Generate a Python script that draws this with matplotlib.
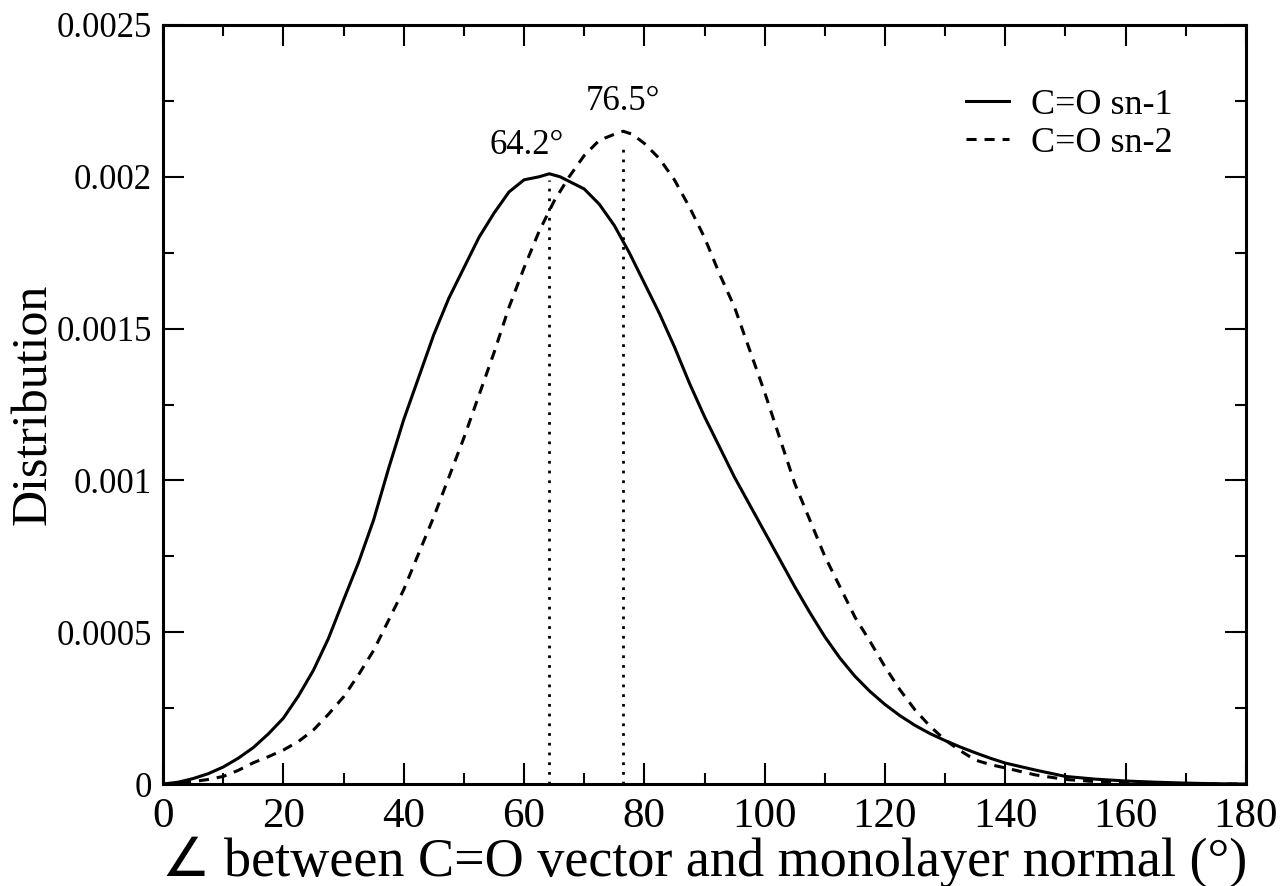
import matplotlib
matplotlib.use("Agg")
import matplotlib.pyplot as plt
from matplotlib.ticker import MultipleLocator

plt.rcParams['font.family'] = ['Liberation Serif', 'DejaVu Serif']

# Angle distribution of the carbonyl vectors (degrees vs. probability density)
angle_sn1 = [0, 2.5, 5, 7.5, 10, 12.5, 15, 17.5, 20, 22.5, 25, 27.5, 30, 32.5, 35, 37.5,
             40, 42.5, 45, 47.5, 50, 52.5, 55, 57.5, 60, 62.5, 64.2, 66, 68, 70, 72.5, 75,
             77.5, 80, 82.5, 85, 87.5, 90, 92.5, 95, 97.5, 100, 102.5, 105, 107.5, 110,
             112.5, 115, 117.5, 120, 122.5, 125, 127.5, 130, 132.5, 135, 137.5, 140, 145,
             150, 155, 160, 165, 170, 175, 180]
dist_sn1 = [0.0, 0.000006, 0.000018, 0.000034, 0.000056, 0.000085, 0.00012, 0.000165,
            0.000217, 0.00029, 0.000375, 0.00048, 0.000606, 0.00073, 0.00087, 0.00104,
            0.0012, 0.00134, 0.00148, 0.0016, 0.0017, 0.0018, 0.00188, 0.00195, 0.00199,
            0.002, 0.00201, 0.002, 0.00198, 0.00196, 0.00191, 0.00184, 0.00175, 0.00165,
            0.00155, 0.00144, 0.00132, 0.00121, 0.00111, 0.00101, 0.00092, 0.00083,
            0.00074, 0.00065, 0.000565, 0.000485, 0.000415, 0.000355, 0.000305, 0.000262,
            0.000225, 0.000193, 0.000166, 0.000143, 0.000122, 0.000103, 0.000085, 0.000069,
            0.000046, 0.000025, 0.000016, 0.00001, 0.000006, 0.000003, 0.000001, 0.0]

angle_sn2 = [0, 2.5, 5, 7.5, 10, 12.5, 15, 17.5, 20, 22.5, 25, 27.5, 30, 32.5, 35, 37.5,
             40, 42.5, 45, 47.5, 50, 52.5, 55, 57.5, 60, 62.5, 65, 67.5, 70, 72.5, 75, 76.5,
             78, 80, 82.5, 85, 87.5, 90, 92.5, 95, 97.5, 100, 102.5, 105, 107.5, 110, 112.5,
             115, 117.5, 120, 122.5, 125, 127.5, 130, 132.5, 135, 137.5, 140, 145, 150, 155,
             160, 165, 170, 180]
dist_sn2 = [0.0, 0.000002, 0.000008, 0.000015, 0.000025, 0.000045, 0.00007, 0.00009,
            0.000112, 0.00014, 0.000178, 0.00023, 0.000287, 0.00036, 0.00044, 0.00054,
            0.00064, 0.00076, 0.00088, 0.00101, 0.00114, 0.00128, 0.00142, 0.00157, 0.0017,
            0.00182, 0.00192, 0.002, 0.00207, 0.00212, 0.00214, 0.00215, 0.00214, 0.00211,
            0.00206, 0.00199, 0.0019, 0.0018, 0.00168, 0.00157, 0.00143, 0.00129, 0.00114,
            0.00099, 0.00087, 0.00075, 0.00065, 0.00055, 0.00047, 0.000386, 0.00031,
            0.000244, 0.00019, 0.000145, 0.00011, 0.000079, 0.000064, 0.000053, 0.00003,
            0.000015, 0.000008, 0.000003, 0.000001, 0.0, 0.0]

peak_angles = [64.2, 76.5]
peak_heights = [0.00199, 0.0021]
peak_labels = ["64.2°", "76.5°"]

x_ticks = [0, 20, 40, 60, 80, 100, 120, 140, 160, 180]
y_ticks = [0, 0.0005, 0.001, 0.0015, 0.002, 0.0025]
y_ticklabels = ["0", "0.0005", "0.001", "0.0015", "0.002", "0.0025"]

fig = plt.figure(figsize=(12.87, 8.86), dpi=100)
ax = fig.add_axes([0.1267, 0.1151, 0.8414, 0.8567])

ax.plot(angle_sn1, dist_sn1, color='black', lw=2.2, label='C=O sn-1')
ax.plot(angle_sn2, dist_sn2, color='black', lw=2.2, ls=(0, (3.3, 2.6)), label='C=O sn-2')

for a, h in zip(peak_angles, peak_heights):
    ax.plot([a, a], [0, h], color='black', lw=2.0, ls=(0, (1, 2.5)))

ax.text(60.5, 0.00205, peak_labels[0], ha='center', va='bottom', fontsize=25)
ax.text(76.5, 0.002195, peak_labels[1], ha='center', va='bottom', fontsize=25)

ax.set_xlim(0, 180)
ax.set_ylim(0, 0.0025)
ax.set_xticks(x_ticks)
ax.set_xticklabels([str(v) for v in x_ticks])
ax.set_yticks(y_ticks)
ax.set_yticklabels(y_ticklabels)
ax.xaxis.set_minor_locator(MultipleLocator(10))
ax.yaxis.set_minor_locator(MultipleLocator(0.00025))

ax.tick_params(which='both', direction='in', top=True, right=True, width=1.5)
ax.tick_params(which='major', length=15)
ax.tick_params(which='minor', length=8)
ax.tick_params(axis='x', which='major', labelsize=31, pad=10)
ax.tick_params(axis='y', which='major', labelsize=25, pad=8)
for s in ax.spines.values():
    s.set_linewidth(2.2)

ax.set_xlabel("∠ between C=O vector and monolayer normal (°)", fontsize=39, labelpad=0,
              family=['Liberation Serif', 'DejaVu Sans'])
ax.set_ylabel("Distribution", fontsize=36)
ax.yaxis.set_label_coords(-0.098, 0.5)

leg = ax.legend(loc='upper right', bbox_to_anchor=(0.932, 0.916), frameon=False,
                fontsize=26, handlelength=1.2, handletextpad=0.6, labelspacing=0.12,
                borderpad=0, borderaxespad=0)

fig.savefig("out.png", dpi=100)
